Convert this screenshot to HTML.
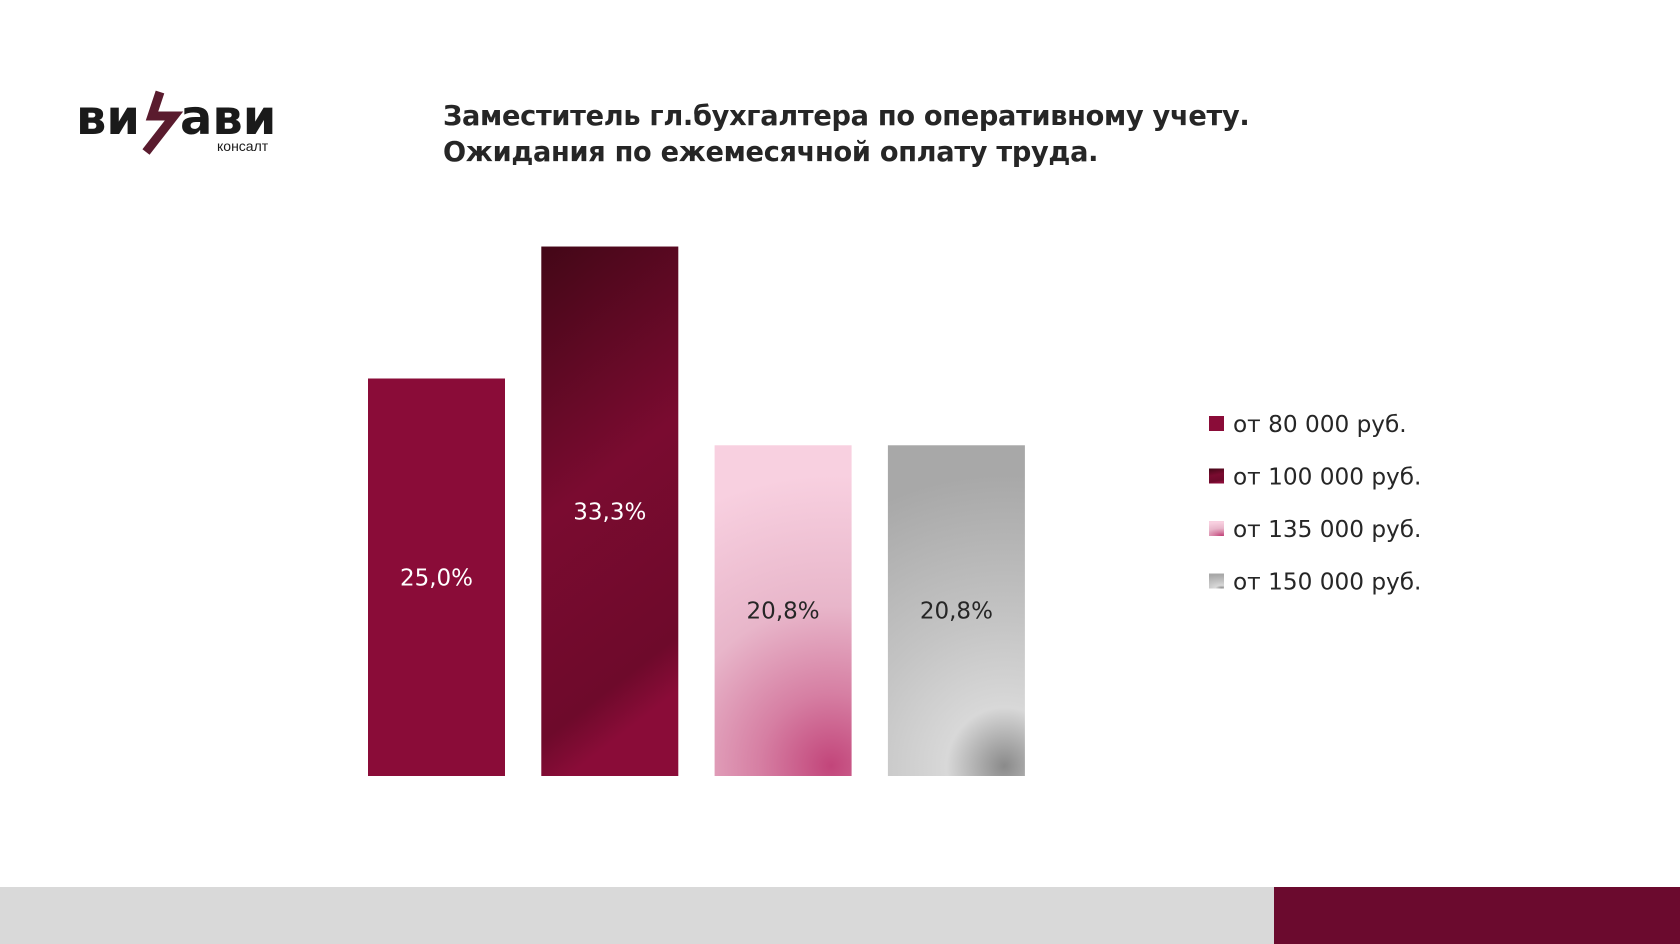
<!DOCTYPE html>
<html><head><meta charset="utf-8"><style>
body{margin:0;width:1680px;height:944px;background:#fff;position:relative;overflow:hidden;font-family:"Liberation Sans","DejaVu Sans",sans-serif}
.abs{position:absolute}
</style></head><body>
<div class="abs" style="left:76px;top:86px;width:220px;height:75px">
<svg width="220" height="75">
<text x="0" y="48" font-family="DejaVu Sans" font-weight="bold" font-size="48" fill="#1a1a1a">ви</text>
<path d="M84 6 L76 30 L98 30 L70 66" stroke="#5a1b2e" stroke-width="9" fill="none" stroke-linejoin="miter"/>
<text x="104" y="48" font-family="DejaVu Sans" font-weight="bold" font-size="48" fill="#1a1a1a">ави</text>
<text x="141" y="65" font-size="14" fill="#1a1a1a">консалт</text>
</svg></div>
<div class="abs" style="left:443px;top:99px;font-size:27.2px;font-weight:bold;color:#262626;line-height:36px;font-family:'DejaVu Sans',sans-serif;letter-spacing:-0.3px">Заместитель гл.бухгалтера по оперативному учету.<br>Ожидания по ежемесячной оплату труда.</div>
<svg class="abs" style="left:0;top:0" width="1680" height="944" id="chart">
<defs>
<linearGradient id="g1" x1="0" y1="0" x2="0" y2="1"><stop offset="0" stop-color="#8a0c38"/><stop offset="1" stop-color="#8a0c38"/></linearGradient>
<linearGradient id="g2" x1="0" y1="0" x2="0.2" y2="1"><stop offset="0" stop-color="#430717"/><stop offset="0.5" stop-color="#7a0b30"/><stop offset="0.9" stop-color="#6e0a2b"/><stop offset="1" stop-color="#8a0c38"/></linearGradient>
<radialGradient id="g3" cx="0.85" cy="0.97" r="2.1" gradientTransform="translate(0.85,0.97) scale(1,0.42) translate(-0.85,-0.97)"><stop offset="0" stop-color="#c2457a"/><stop offset="0.25" stop-color="#d67fa3"/><stop offset="0.55" stop-color="#e8b6ca"/><stop offset="1" stop-color="#f8d0e0"/></radialGradient>
<radialGradient id="g4" cx="0.85" cy="0.97" r="2.1" gradientTransform="translate(0.85,0.97) scale(1,0.42) translate(-0.85,-0.97)"><stop offset="0" stop-color="#8a8a8a"/><stop offset="0.2" stop-color="#d8d8d8"/><stop offset="0.5" stop-color="#c4c4c4"/><stop offset="1" stop-color="#a8a8a8"/></radialGradient>
</defs>
<g id="bars"></g>
</svg>
<div class="abs" style="left:0;top:887px;width:1274px;height:57px;background:#d9d9d9"></div>
<div class="abs" style="left:1274px;top:887px;width:406px;height:57px;background:#6b0a2e"></div>
<script>
const categories=["от 80 000 руб.","от 100 000 руб.","от 135 000 руб.","от 150 000 руб."];
const values=[25.0,33.3,20.8,20.8];
const labels=["25,0%","33,3%","20,8%","20,8%"];
const fills=["url(#g1)","url(#g2)","url(#g3)","url(#g4)"];
const ns="http://www.w3.org/2000/svg";
const g=document.getElementById('bars');
const base=776, scale=15.9, x0=368, step=173.3, bw=137;
function y(v){return base-v*scale;}
function xp(i){return x0+i*step;}
values.forEach((v,i)=>{
 const r=document.createElementNS(ns,'rect');
 r.setAttribute('x',xp(i));r.setAttribute('y',y(v));r.setAttribute('width',bw);r.setAttribute('height',base-y(v));r.setAttribute('fill',fills[i]);
 
 
 g.appendChild(r);
 const t=document.createElementNS(ns,'text');
 t.setAttribute('x',xp(i)+bw/2);t.setAttribute('y',(y(v)+base)/2+8);t.setAttribute('text-anchor','middle');
 t.setAttribute('font-size','23');t.setAttribute('fill',i==3||i==2?'#262626':'#fff');t.setAttribute('font-family','DejaVu Sans, sans-serif');
 t.textContent=labels[i];
 
 
 g.appendChild(t);
 const s=document.createElementNS(ns,'rect');
 s.setAttribute('x',1209);s.setAttribute('y',416+i*52.5);s.setAttribute('width',15);s.setAttribute('height',15);s.setAttribute('fill',fills[i]);
 
 
 g.appendChild(s);
 const l=document.createElementNS(ns,'text');
 l.setAttribute('x',1233);l.setAttribute('y',432+i*52.5);l.setAttribute('font-size','23.2');l.setAttribute('fill','#262626');l.setAttribute('font-family','DejaVu Sans, sans-serif');
 l.textContent=categories[i];
 
 
 g.appendChild(l);
});
</script>
</body></html>
